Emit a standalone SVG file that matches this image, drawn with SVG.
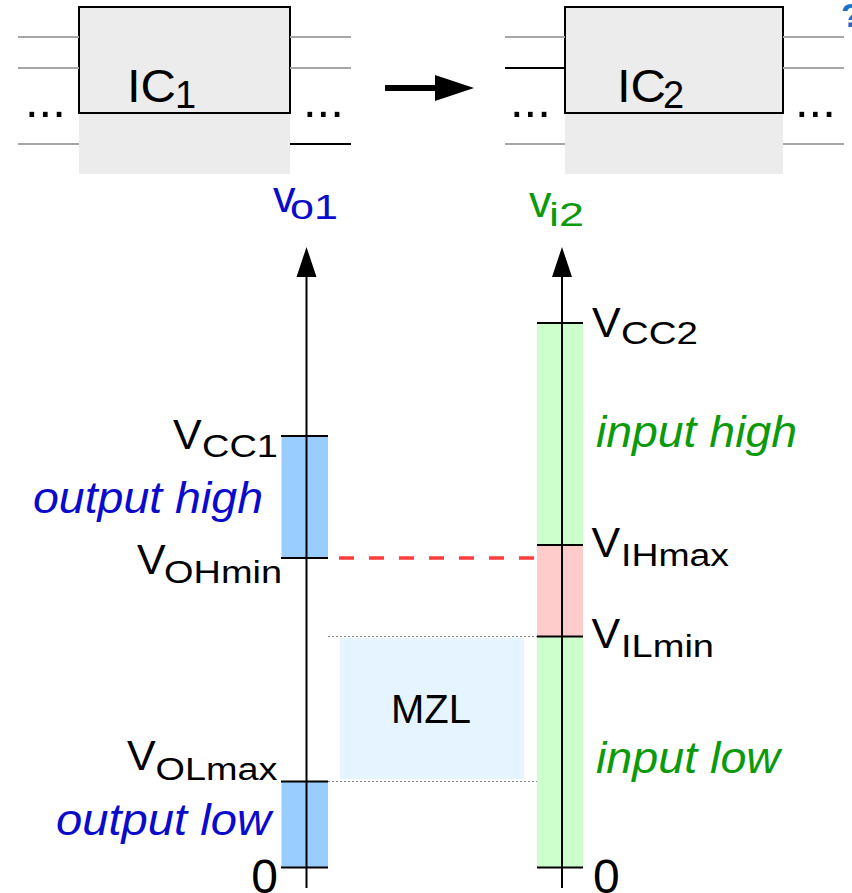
<svg xmlns="http://www.w3.org/2000/svg" width="852" height="893" viewBox="0 0 852 893">
<style>
text{font-family:"Liberation Sans",Arial,sans-serif;fill:#000}
.main{font-size:43px}
.sub{font-size:31px}
.ital{font-size:45px;font-style:italic}
.zero{font-size:48px}
.blue{fill:#0a0acc}
.green{fill:#0a9a0a}
.pin{stroke:#a6a6a6;stroke-width:2}
.pinb{stroke:#000;stroke-width:2}
.tick{stroke:#000;stroke-width:2}
.axis{stroke:#000;stroke-width:2}
.dots{font-size:49px}
.dotted{stroke:#8a8a8a;stroke-width:1;stroke-dasharray:2 2}
</style>
<rect width="852" height="893" fill="#fff"/>

<g id="ic1">
<rect x="79" y="113" width="211" height="61" fill="#ececec"/>
<rect x="79" y="7" width="211" height="106" fill="#ececec" stroke="#000" stroke-width="2"/>
<line class="pin" x1="18" y1="37" x2="79" y2="37"/>
<line class="pin" x1="18" y1="68" x2="79" y2="68"/>
<line class="pin" x1="18" y1="144" x2="79" y2="144"/>
<line class="pin" x1="290" y1="37" x2="351" y2="37"/>
<line class="pin" x1="290" y1="68" x2="351" y2="68"/>
<line class="pinb" x1="290" y1="144" x2="351" y2="144"/>
<text class="dots" x="25" y="117">...</text>
<text class="dots" x="303" y="117">...</text>
<text x="127" y="101.7" font-size="47" textLength="49" lengthAdjust="spacingAndGlyphs">IC</text>
<text x="175" y="108.3" font-size="38">1</text>
</g>

<g id="ic2">
<rect x="565" y="113" width="218" height="61" fill="#ececec"/>
<rect x="565" y="7" width="218" height="106" fill="#ececec" stroke="#000" stroke-width="2"/>
<line class="pin" x1="505" y1="37" x2="565" y2="37"/>
<line class="pinb" x1="505" y1="68" x2="565" y2="68"/>
<line class="pin" x1="505" y1="144" x2="565" y2="144"/>
<line class="pin" x1="783" y1="37" x2="844" y2="37"/>
<line class="pin" x1="783" y1="68" x2="844" y2="68"/>
<line class="pin" x1="783" y1="144" x2="844" y2="144"/>
<text class="dots" x="510" y="117">...</text>
<text class="dots" x="795" y="117">...</text>
<text x="617" y="101.7" font-size="47" textLength="49" lengthAdjust="spacingAndGlyphs">IC</text>
<text x="663" y="108.3" font-size="38">2</text>
</g>

<text x="841" y="27" font-size="34" style="fill:#1a73c8;font-weight:bold">?</text>

<g id="connectors">
<line x1="385" y1="88" x2="440" y2="88" stroke="#000" stroke-width="6"/>
<polygon points="474,88 435,75 435,101" fill="#000"/>
<line x1="339" y1="558" x2="537" y2="558" stroke="#ff3c3c" stroke-width="3.5" stroke-dasharray="15 15"/>
<line class="dotted" x1="328" y1="636.5" x2="537" y2="636.5"/>
<line class="dotted" x1="328" y1="781.5" x2="537" y2="781.5"/>
</g>

<g id="vo1-axis">
<rect x="281.5" y="436" width="46.5" height="122" fill="#99ccff"/>
<rect x="281.5" y="782" width="46.5" height="85" fill="#99ccff"/>
<line class="axis" x1="306.5" y1="270" x2="306.5" y2="888"/>
<polygon points="306.5,247 296.5,277 316.5,277" fill="#000"/>
<line class="tick" x1="281" y1="436" x2="328" y2="436"/>
<line class="tick" x1="281" y1="558" x2="328" y2="558"/>
<line class="tick" x1="281" y1="781.5" x2="328" y2="781.5"/>
<line class="tick" x1="281" y1="867.5" x2="328" y2="867.5"/>
<text class="blue" x="273" y="212" font-size="45">v</text>
<text class="blue" x="290" y="218.5" font-size="35" textLength="48" lengthAdjust="spacingAndGlyphs">o1</text>
</g>

<g id="vi2-axis">
<rect x="537" y="323" width="46" height="544.5" fill="#ccffcc"/>
<rect x="537" y="545" width="46" height="92" fill="#ffcccc"/>
<line class="axis" x1="562" y1="270" x2="562" y2="888"/>
<polygon points="562,247 552,277 572,277" fill="#000"/>
<line class="tick" x1="537" y1="323" x2="583" y2="323"/>
<line class="tick" x1="537" y1="545" x2="583" y2="545"/>
<line class="tick" x1="537" y1="636.5" x2="583" y2="636.5"/>
<line class="tick" x1="537" y1="867.5" x2="583" y2="867.5"/>
<text class="green" x="529" y="217" font-size="45">v</text>
<text class="green" x="549" y="226" font-size="34" textLength="35" lengthAdjust="spacingAndGlyphs">i2</text>
</g>

<g id="mzl">
<rect x="340" y="638" width="184" height="141" fill="#e6f4ff"/>
<text x="431" y="723" font-size="40" text-anchor="middle">MZL</text>
</g>

<g id="labels-left">
<text class="main" x="173" y="448.5">V</text>
<text class="sub" x="202" y="456.7" textLength="76" lengthAdjust="spacingAndGlyphs">CC1</text>
<text class="ital blue" x="33" y="513" textLength="230" lengthAdjust="spacingAndGlyphs">output high</text>
<text class="main" x="137" y="574.3">V</text>
<text class="sub" x="164" y="583.3" textLength="118" lengthAdjust="spacingAndGlyphs">OHmin</text>
<text class="main" x="127" y="770">V</text>
<text class="sub" x="155.5" y="780" textLength="122" lengthAdjust="spacingAndGlyphs">OLmax</text>
<text class="ital blue" x="56" y="835" textLength="215" lengthAdjust="spacingAndGlyphs">output low</text>
<text class="zero" x="278" y="893" text-anchor="end">0</text>
</g>

<g id="labels-right">
<text class="main" x="592" y="337.3">V</text>
<text class="sub" x="621" y="344.3" textLength="77" lengthAdjust="spacingAndGlyphs">CC2</text>
<text class="ital green" x="596" y="447" textLength="201" lengthAdjust="spacingAndGlyphs">input high</text>
<text class="main" x="591.5" y="556.7">V</text>
<text class="sub" x="621" y="565.7" textLength="108" lengthAdjust="spacingAndGlyphs">IHmax</text>
<text class="main" x="591.5" y="648.3">V</text>
<text class="sub" x="621" y="656.7" textLength="93" lengthAdjust="spacingAndGlyphs">ILmin</text>
<text class="ital green" x="596" y="773" textLength="184" lengthAdjust="spacingAndGlyphs">input low</text>
<text class="zero" x="593" y="893">0</text>
</g>
</svg>
